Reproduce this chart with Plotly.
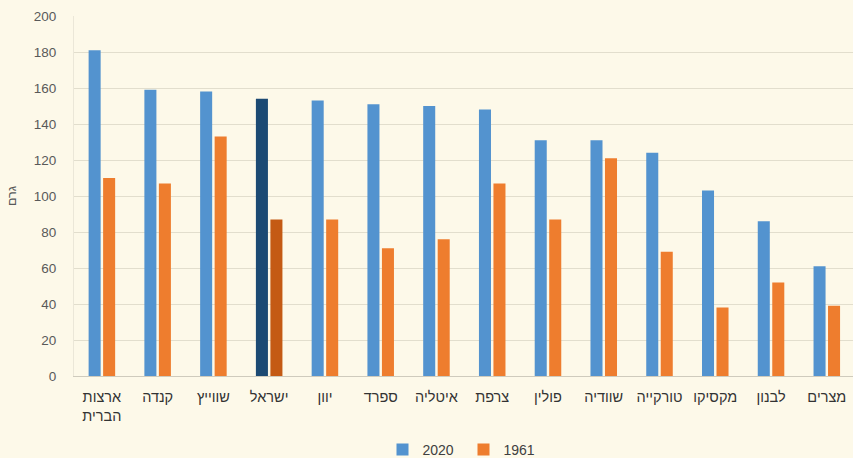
import plotly.graph_objects as go

# Daily consumption per person (grams), by country
countries = ["ארצות<br>הברית", "קנדה", "שווייץ", "ישראל", "יוון", "ספרד", "איטליה",
             "צרפת", "פולין", "שוודיה", "טורקייה", "מקסיקו", "לבנון", "מצרים"]
values_2020 = [181, 159, 158, 154, 153, 151, 150, 148, 131, 131, 124, 103, 86, 61]
values_1961 = [110, 107, 133, 87, 87, 71, 76, 107, 87, 121, 69, 38, 52, 39]
y_ticks = [0, 20, 40, 60, 80, 100, 120, 140, 160, 180, 200]

BLUE, BLUE_DARK = "#5393cf", "#1c4a73"
ORANGE, ORANGE_DARK = "#ee7d2e", "#c45a14"
highlight = "ישראל"

colors_2020 = [BLUE_DARK if c == highlight else BLUE for c in countries]
colors_1961 = [ORANGE_DARK if c == highlight else ORANGE for c in countries]

BG = "#fdf9e9"
FONT = "Liberation Sans, Arial, sans-serif"

fig = go.Figure()
fig.add_trace(go.Bar(name="2020", x=countries, y=values_2020,
                     marker=dict(color=colors_2020, line=dict(width=0))))
fig.add_trace(go.Bar(name="1961", x=countries, y=values_1961,
                     marker=dict(color=colors_1961, line=dict(width=0))))

fig.update_layout(
    width=853, height=458,
    margin=dict(l=74, r=0, t=16, b=82, autoexpand=False),
    paper_bgcolor=BG, plot_bgcolor=BG,
    barmode="group", bargap=0.48, bargroupgap=0.17,
    font=dict(family=FONT, color="#404040"),
    showlegend=True,
    legend=dict(orientation="h", x=0.5, xanchor="center", y=-0.205, yanchor="middle",
                font=dict(size=14, color="#404040"), bgcolor="rgba(0,0,0,0)",
                itemwidth=30, entrywidth=36, entrywidthmode="pixels",
                traceorder="normal"),
)
fig.update_xaxes(
    range=[-0.5, 13.47], automargin=False,
    showline=True, linecolor="#cfcbbd", linewidth=1,
    showgrid=False, ticks="", ticklabelstandoff=8,
    tickfont=dict(size=14.5, color="#333333"),
    tickangle=0, fixedrange=True,
)
fig.update_yaxes(
    range=[0, 200], tickvals=y_ticks, automargin=False,
    showgrid=True, gridcolor="#e2decd", gridwidth=1,
    zeroline=False,
    showline=True, linecolor="#ebe7d8", linewidth=1,
    ticks="outside", ticklen=14, tickcolor=BG,
    tickfont=dict(size=13.5, color="#595959"),
    title=dict(text="גרם", font=dict(size=12.5, color="#595959"), standoff=14),
)

fig.write_html("out.html")
